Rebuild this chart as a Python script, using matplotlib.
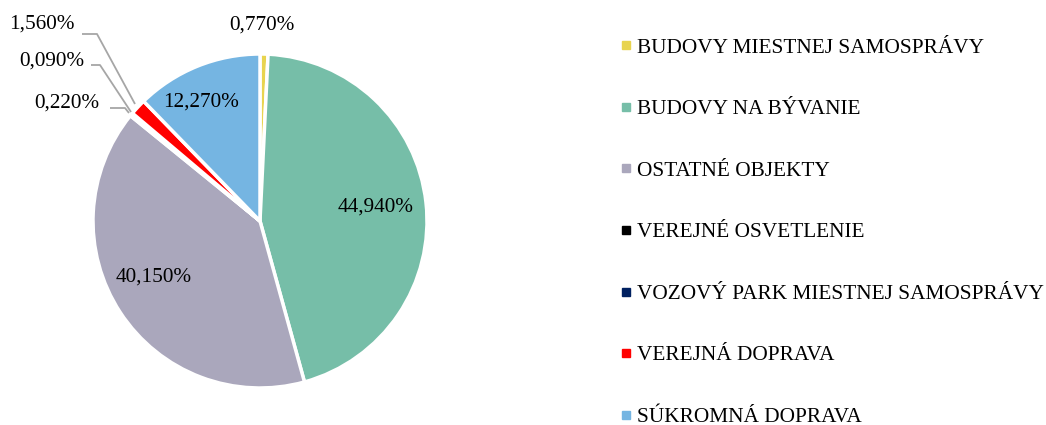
import matplotlib
matplotlib.use("Agg")
import matplotlib.pyplot as plt
from matplotlib.lines import Line2D

plt.rcParams['font.family'] = ['Liberation Serif', 'DejaVu Serif']

categories = ['BUDOVY MIESTNEJ SAMOSPRÁVY', 'BUDOVY NA BÝVANIE', 'OSTATNÉ OBJEKTY',
              'VEREJNÉ OSVETLENIE', 'VOZOVÝ PARK MIESTNEJ SAMOSPRÁVY',
              'VEREJNÁ DOPRAVA', 'SÚKROMNÁ DOPRAVA']
shares = [0.77, 44.94, 40.15, 0.22, 0.09, 1.56, 12.27]
value_labels = ['0,770%', '44,940%', '40,150%', '0,220%', '0,090%', '1,560%', '12,270%']
colors = ['#E8D44F', '#76BEA8', '#AAA7BC', '#000000', '#002060', '#FF0000', '#75B5E2']

W, H = 1046, 425
fig = plt.figure(figsize=(W / 100, H / 100), dpi=100)
ax = fig.add_axes([0, 0, 1, 1])

cx, cy, r = 260, H - 221, 167
wedges, _ = ax.pie(shares, colors=colors, startangle=90, counterclock=False,
                   center=(cx, cy), radius=r, frame=True,
                   wedgeprops=dict(edgecolor='white', linewidth=2.5))
ax.set_xlim(0, W)
ax.set_ylim(0, H)
ax.set_aspect('equal')
ax.axis('off')

fs = 15.3
# labels inside / above the big slices (pixel positions, y from top)
inside = {0: (262, 25), 1: (376, 207), 2: (154, 277), 6: (201, 102)}
for i, (x, y) in inside.items():
    ax.text(x, H - y, value_labels[i], ha='center', va='center', fontsize=fs, color='black')

# small slices with leader lines
lead = {5: ((42, 24), (82, 34), (97, 34), (135, 104)),
        4: ((52, 61), (91, 65), (100, 65), (131, 112)),
        3: ((67, 103), (110, 108), (125, 108), (129, 113))}
for i, (txt, p1, p2, p3) in lead.items():
    ax.text(txt[0], H - txt[1], value_labels[i], ha='center', va='center', fontsize=fs)
    ax.plot([p1[0], p2[0], p3[0]], [H - p1[1], H - p2[1], H - p3[1]],
            color='#A6A6A6', lw=1.3, solid_capstyle='butt')

handles = [Line2D([], [], marker='s', linestyle='none', markersize=5.5,
                  markerfacecolor=c, markeredgecolor=c) for c in colors]
leg = fig.legend(handles, categories, loc='upper left', bbox_to_anchor=(620 / W, 1 - 38 / H),
                 frameon=False, fontsize=fs, handlelength=0.55, handletextpad=0.25,
                 labelspacing=1.96, borderaxespad=0, borderpad=0)

fig.savefig('out.png', dpi=100)
